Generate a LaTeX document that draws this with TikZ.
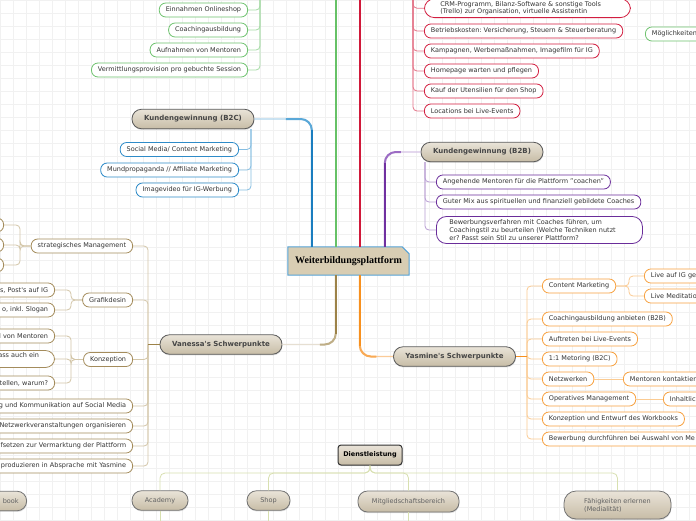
\documentclass[tikz,border=0pt]{standalone}
\usepackage{fontspec}
\setmainfont{DejaVu Sans}
\newfontfamily\titlefont{Liberation Serif}
\usetikzlibrary{calc,shadows,backgrounds}
\newcommand{\leaffont}{\fontsize{6.5}{8}\selectfont}
\frenchspacing
\definecolor{txt}{HTML}{333333}
\definecolor{gridc}{HTML}{F1F1F1}
\definecolor{blD}{HTML}{1A7DBF}
\definecolor{blM}{HTML}{5AA8D8}
\definecolor{blL}{HTML}{B0D4EC}
\definecolor{blB}{HTML}{2E8BC8}
\definecolor{blT}{HTML}{86BEE2}
\definecolor{grD}{HTML}{66C166}
\definecolor{grB}{HTML}{6EC26E}
\definecolor{grT}{HTML}{A6DBA6}
\definecolor{rdD}{HTML}{D0193A}
\definecolor{rdB}{HTML}{D21E40}
\definecolor{rdT}{HTML}{E47488}
\definecolor{puD}{HTML}{7030A0}
\definecolor{puM}{HTML}{9C6CC4}
\definecolor{puL}{HTML}{D6C4E6}
\definecolor{puB}{HTML}{6A2D9A}
\definecolor{puT}{HTML}{B89CD2}
\definecolor{vaD}{HTML}{9C8248}
\definecolor{vaM}{HTML}{BFAE86}
\definecolor{vaL}{HTML}{E6DFD2}
\definecolor{vaB}{HTML}{A48C5C}
\definecolor{vaT}{HTML}{D3C6A8}
\definecolor{orD}{HTML}{F7901E}
\definecolor{orM}{HTML}{F9AA55}
\definecolor{orL}{HTML}{FBCB98}
\definecolor{orB}{HTML}{F7A13F}
\definecolor{orT}{HTML}{FBCB92}
\definecolor{dlT}{HTML}{D8E0B0}
\definecolor{tanTop}{HTML}{E9E3D8}
\definecolor{tanBot}{HTML}{C7BCA6}
\definecolor{topB}{HTML}{5A5A5A}
\definecolor{topTxt}{HTML}{454545}
\definecolor{cfill}{HTML}{D8CDB3}
\definecolor{cborder}{HTML}{55A2D6}
\begin{document}
\begin{tikzpicture}[x=1pt,y=-1pt,
  leaf/.style={draw, fill=white, rounded corners=6.5pt, line width=0.8pt, minimum height=14pt, inner xsep=6.5pt, inner ysep=2pt, font=\leaffont, text=txt},
  cutL/.style={text width=#1, align=right},
  cutR/.style={text width=#1, align=left},
  topic/.style={draw=topB, line width=0.8pt, top color=tanTop, bottom color=tanBot, rounded corners=9.5pt, minimum width=122pt, minimum height=19.5pt, font=\bfseries\fontsize{7}{8}\selectfont, text=topTxt, drop shadow={opacity=0.25, shadow xshift=0.4pt, shadow yshift=-1.2pt}},
  service/.style={draw=topB!85, line width=0.8pt, top color=tanTop, bottom color=tanBot, rounded corners=9.5pt, minimum height=19.5pt, inner xsep=8pt, font=\leaffont, text=topTxt!85, drop shadow={opacity=0.25, shadow xshift=0.4pt, shadow yshift=-1.2pt}},
  dlst/.style={draw=black!80, line width=1pt, top color=tanTop, bottom color=tanBot, rounded corners=3pt, minimum width=64pt, minimum height=20pt, font=\bfseries\fontsize{6.5}{8}\selectfont, text=black, drop shadow={opacity=0.25, shadow xshift=0.4pt, shadow yshift=-1.2pt}},
  twig/.style={line width=0.8pt, rounded corners=4pt}
]
\useasboundingbox (0,0) rectangle (696,520);
\begin{scope}[on background layer]
  \fill[white] (0,0) rectangle (696,520);
  \foreach \i in {0,13,...,689} \draw[gridc, line width=0.5pt] (\i,0) -- (\i,520);
  \foreach \j in {0,13,...,520} \draw[gridc, line width=0.5pt] (0,\j) -- (696,\j);
\end{scope}

% centre
\node[minimum width=121pt, minimum height=28pt, font=\titlefont\bfseries\fontsize{10}{12}\selectfont] (c) at (348.5,261) {Weiterbildungsplattform};
\begin{scope}[on background layer]
  \draw[cborder, fill=cfill, line width=1pt] (c.south west) -- (c.north west) -- ($(c.north east)+(-7,0)$) -- ($(c.north east)+(0,7)$) -- (c.south east) -- cycle;
\end{scope}
\coordinate (bs) at ($(c.north west)+(24,0)$);
\coordinate (gs) at ($(c.north west)+(48,0)$);
\coordinate (rs) at ($(c.north west)+(72,0)$);
\coordinate (ps) at ($(c.north west)+(97,0)$);
\coordinate (vs) at ($(c.south west)+(48,0)$);
\coordinate (ys) at ($(c.south west)+(72,0)$);

% green group (top left)
\node[leaf, draw=grB, anchor=east] (gA) at (248,10) {Einnahmen Onlineshop};
\node[leaf, draw=grB, anchor=east] (gB) at (248,30) {Coachingausbildung};
\node[leaf, draw=grB, anchor=east] (gC) at (248,50) {Aufnahmen von Mentoren};
\node[leaf, draw=grB, anchor=east] (gD) at (248,70) {Vermittlungsprovision pro gebuchte Session};
\coordinate (gT) at (260,-5);
\foreach \n in {gA,gB,gC,gD} \draw[twig, grT] (gT) |- (\n.east);
\draw[grD, line width=2.4pt] (gs) -- (gs |- gT);

% red group (top right)
\node[leaf, draw=rdB, anchor=south west, align=left, text width=174pt, inner xsep=16pt, inner ysep=2.5pt, rounded corners=10pt, font=\fontsize{6.5}{7.5}\selectfont] (r0) at (424,18) {CRM-Programm, Bilanz-Software \& sonstige Tools\\(Trello) zur Organisation, virtuelle Assistentin};
\node[leaf, draw=rdB, anchor=west] (r1) at (424,31) {Betriebskosten: Versicherung, Steuern \& Steuerberatung};
\node[leaf, draw=rdB, anchor=west] (r2) at (424,51) {Kampagnen, Werbemaßnahmen, Imagefilm für IG};
\node[leaf, draw=rdB, anchor=west] (r3) at (424,71) {Homepage warten und pflegen};
\node[leaf, draw=rdB, anchor=west] (r4) at (424,91) {Kauf der Utensilien für den Shop};
\node[leaf, draw=rdB, anchor=west] (r5) at (424,111) {Locations bei Live-Events};
\coordinate (rT) at (413,-5);
\foreach \n in {r0,r1,r2,r3,r4,r5} \draw[twig, rdT] (rT) |- (\n.west);
\draw[rdD, line width=2.4pt] (rs) -- (rs |- rT);

\node[leaf, draw=grB, anchor=west, cutR=80pt] (mg) at (645,34) {Möglichkeiten};

% B2C
\node[topic] (b2c) at (193,119) {Kundengewinnung (B2C)};
\node[leaf, draw=blB, anchor=east] (b1) at (239,149.5) {Social Media/ Content Marketing};
\node[leaf, draw=blB, anchor=east] (b2) at (239,170) {Mundpropaganda // Affiliate Marketing};
\node[leaf, draw=blB, anchor=east] (b3) at (239,190) {Imagevideo für IG-Werbung};
\coordinate (bT) at (251,129);
\foreach \n in {b1,b2,b3} \draw[twig, blT] (bT) |- (\n.east);
\draw[blL, line width=1.4pt, rounded corners=11pt] (bs) |- (b2c.east);
\draw[blM, line width=2pt, rounded corners=11pt] (bs) |- ($(bs |- b2c.east)!0.45!(b2c.east)$);
\draw[blD, line width=2.6pt] (bs) -- ($(bs |- b2c.east)+(0,11)$);

% B2B
\node[topic] (b2b) at (482,152) {Kundengewinnung (B2B)};
\node[leaf, draw=puB, anchor=west] (p1) at (436,182) {Angehende Mentoren für die Plattform "coachen"};
\node[leaf, draw=puB, anchor=west] (p2) at (436,202) {Guter Mix aus spirituellen und finanziell gebildete Coaches};
\node[leaf, draw=puB, anchor=west, align=left, text width=180pt, inner xsep=13pt, inner ysep=3pt, rounded corners=10pt] (p3) at (436,230) {Bewerbungsverfahren mit Coaches führen, um\\Coachingstil zu beurteilen (Welche Techniken nutzt\\er? Passt sein Stil zu unserer Plattform?};
\coordinate (pT) at (425,162);
\foreach \n in {p1,p2,p3} \draw[twig, puT] (pT) |- (\n.west);
\draw[puL, line width=1.4pt, rounded corners=11pt] (ps) |- (b2b.west);
\draw[puM, line width=2pt, rounded corners=11pt] (ps) |- ($(ps |- b2b.west)!0.45!(b2b.west)$);
\draw[puD, line width=2.6pt] (ps) -- ($(ps |- b2b.west)+(0,11)$);

% Vanessa
\node[topic] (van) at (221,344.5) {Vanessa\textquotesingle s Schwerpunkte};
\node[leaf, draw=vaB, anchor=east] (v1) at (133,246) {strategisches Management};
\node[leaf, draw=vaB, anchor=east] (v2) at (133,300) {Grafikdesin};
\node[leaf, draw=vaB, anchor=east] (v3) at (133,359.5) {Konzeption};
\node[leaf, draw=vaB, anchor=east, cutL=151pt] (v4) at (133,406) {g und Kommunikation auf Social Media};
\node[leaf, draw=vaB, anchor=east, cutL=151pt] (v5) at (133,426) {Netzwerkveranstaltungen organisieren};
\node[leaf, draw=vaB, anchor=east, cutL=151pt] (v6) at (133,446) {fsetzen zur Vermarktung der Plattform};
\node[leaf, draw=vaB, anchor=east, cutL=151pt] (v7) at (133,466) {produzieren in Absprache mit Yasmine};
\coordinate (vT) at (148,344.5);
\foreach \n in {v1,v2,v3,v4,v5,v6,v7} \draw[twig, vaT] (vT) |- (\n.east);
\draw[vaD, line width=1.4pt] (van.west) -- (vT);

\node[leaf, draw=vaB, anchor=east, minimum width=40pt] (s1) at (4,225) {};
\node[leaf, draw=vaB, anchor=east, minimum width=40pt] (s2) at (4,245) {};
\node[leaf, draw=vaB, anchor=east, minimum width=40pt] (s3) at (4,265) {};
\coordinate (sT) at (20,246);
\foreach \n in {s1,s2,s3} \draw[twig, vaT] (v1.west) -- (sT) |- (\n.east);

\node[leaf, draw=vaB, anchor=east, cutL=80pt] (g1) at (55,290) {s, Post\textquotesingle s auf IG};
\node[leaf, draw=vaB, anchor=east, cutL=80pt] (g2) at (55,310) {o, inkl. Slogan};
\coordinate (gfT) at (71,300);
\foreach \n in {g1,g2} \draw[twig, vaT] (v2.west) -- (gfT) |- (\n.east);

\node[leaf, draw=vaB, anchor=east, cutL=80pt] (k1) at (55,336) {l von Mentoren};
\node[leaf, draw=vaB, anchor=east, cutL=80pt, rounded corners=9pt] (k2) at (55,359) {ass auch ein\makebox[9pt]{}\\\mbox{}};
\node[leaf, draw=vaB, anchor=east, cutL=80pt] (k3) at (55,383) {tellen, warum?};
\coordinate (kT) at (71,359.5);
\foreach \n in {k1,k2,k3} \draw[twig, vaT] (v3.west) -- (kT) |- (\n.east);

\draw[vaL, line width=1.4pt, rounded corners=11pt] (vs) |- (van.east);
\draw[vaM, line width=2pt, rounded corners=11pt] (vs) |- ($(vs |- van.east)!0.3!(van.east)$);
\draw[vaD, line width=2.6pt] (vs) -- ($(vs |- van.east)+(0,-11)$);

% Yasmine
\node[topic] (yas) at (454.5,356.5) {Yasmine\textquotesingle s Schwerpunkte};
\node[leaf, draw=orB, anchor=west] (y1) at (542,286) {Content Marketing};
\node[leaf, draw=orB, anchor=west] (y2) at (542,319) {Coachingausbildung anbieten (B2B)};
\node[leaf, draw=orB, anchor=west] (y3) at (542,339) {Auftreten bei Live-Events};
\node[leaf, draw=orB, anchor=west] (y4) at (542,359) {1:1 Metoring (B2C)};
\node[leaf, draw=orB, anchor=west] (y5) at (542,379) {Netzwerken};
\node[leaf, draw=orB, anchor=west] (y6) at (542,399) {Operatives Management};
\node[leaf, draw=orB, anchor=west] (y7) at (542,419) {Konzeption und Entwurf des Workbooks};
\node[leaf, draw=orB, anchor=west, cutR=200pt] (y8) at (542,439) {Bewerbung durchführen bei Auswahl von Me};
\coordinate (yT) at (527,356.5);
\foreach \n in {y1,y2,y3,y4,y5,y6,y7,y8} \draw[twig, orT] (yT) |- (\n.west);
\draw[orD, line width=1.4pt] (yas.east) -- (yT);

\node[leaf, draw=orB, anchor=west, cutR=80pt] (cm1) at (644,276) {Live auf IG ge};
\node[leaf, draw=orB, anchor=west, cutR=80pt] (cm2) at (644,296) {Live Meditatio};
\coordinate (y1T) at (629,286);
\foreach \n in {cm1,cm2} \draw[twig, orT] (y1.east) -- (y1T) |- (\n.west);
\node[leaf, draw=orB, anchor=west, cutR=100pt] (nk) at (623,379) {Mentoren kontaktier};
\draw[twig, orT] (y5.east) -- (nk.west);
\node[leaf, draw=orB, anchor=west, cutR=60pt] (ih) at (663,399) {Inhaltlic};
\draw[twig, orT] (y6.east) -- (ih.west);

\draw[orL, line width=1.4pt, rounded corners=11pt] (ys) |- (yas.west);
\draw[orM, line width=2pt, rounded corners=11pt] (ys) |- ($(ys |- yas.west)!0.5!(yas.west)$);
\draw[orD, line width=2.6pt] (ys) -- ($(ys |- yas.west)+(0,-11)$);

% Dienstleistung
\node[dlst] (dl) at (370,455) {Dienstleistung};
\node[service, anchor=east, cutL=40pt] (w0) at (27,501) {book};
\node[service, minimum width=56pt] (w1) at (160,500.5) {Academy};
\node[service, minimum width=43pt] (w2) at (268.5,500.5) {Shop};
\node[service, minimum width=101pt, minimum height=21pt] (w3) at (408.5,501.5) {Mitgliedschaftsbereich};
\node[service, minimum width=107pt, minimum height=28pt, rounded corners=12pt, align=left] (w4) at (617.5,505) {Fähigkeiten erlernen\\(Medialität)};
\coordinate (dT) at (370,473);
\coordinate (bot) at (0,530);
\foreach \n in {w1,w2,w3,w4} \draw[twig, dlT, rounded corners=5pt] (dl.south) -- (dT) -| (\n.north);
\foreach \n in {w1,w2,w3} \draw[twig, dlT] (\n.south) -- (\n.south |- bot);
\end{tikzpicture}
\end{document}
